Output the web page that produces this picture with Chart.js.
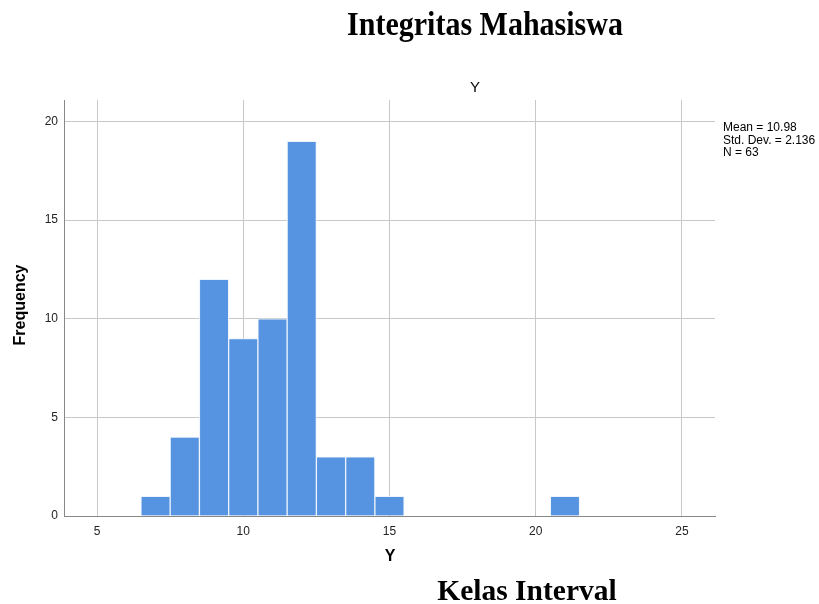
<!DOCTYPE html>
<html>
<head>
<meta charset="utf-8">
<script src="https://cdn.jsdelivr.net/npm/chart.js@4"></script>
<style>
html,body{margin:0;padding:0;background:#fff;}
#wrap{width:819px;height:604px;position:relative;}
</style>
</head>
<body>
<div id="wrap"><canvas id="c" width="819" height="604"></canvas></div>
<script>
// Histogram data (bin centres, frequencies)
const binCenters = [7, 8, 9, 10, 11, 12, 13, 14, 15, 21];
const frequencies = [1, 4, 12, 9, 10, 19, 3, 3, 1, 1];
const xTickValues = [5, 10, 15, 20, 25];
const yTickValues = [0, 5, 10, 15, 20];
const statsLines = ['Mean = 10.98', 'Std. Dev. = 2.136', 'N = 63'];
const chartTitle = 'Integritas Mahasiswa';
const chartSubtitle = 'Y';
const xAxisTitle = 'Y';
const yAxisTitle = 'Frequency';
const footerTitle = 'Kelas Interval';

const textPlugin = {
  id: 'texts',
  afterDraw(chart) {
    const ctx = chart.ctx;
    ctx.save();
    ctx.fillStyle = '#000';
    ctx.save();
    ctx.font = 'bold 30px "Liberation Serif", "Times New Roman", serif';
    ctx.textAlign = 'center';
    ctx.textBaseline = 'alphabetic';
    ctx.translate(485, 35);
    ctx.scale(1, 1.1);
    ctx.fillText(chartTitle, 0, 0);
    ctx.restore();
    ctx.font = '15px "Liberation Sans", Arial, sans-serif';
    ctx.textAlign = 'center';
    ctx.textBaseline = 'middle';
    ctx.fillText(chartSubtitle, 475, 88);
    ctx.font = '12px "Liberation Sans", Arial, sans-serif';
    ctx.textAlign = 'left';
    statsLines.forEach((s, i) => ctx.fillText(s, 723, 128 + i * 12.5));
    ctx.font = 'bold 16px "Liberation Sans", Arial, sans-serif';
    ctx.textAlign = 'center';
    ctx.fillText(xAxisTitle, 390, 557);
    ctx.save();
    ctx.translate(21, 305);
    ctx.rotate(-Math.PI / 2);
    ctx.font = 'bold 16px "Liberation Sans", Arial, sans-serif';
    ctx.fillText(yAxisTitle, 0, 0);
    ctx.restore();
    ctx.font = 'bold 29.5px "Liberation Serif", "Times New Roman", serif';
    ctx.textAlign = 'center';
    ctx.textBaseline = 'alphabetic';
    ctx.fillText(footerTitle, 527, 600);
    ctx.restore();
  }
};

new Chart(document.getElementById('c'), {
  type: 'bar',
  data: {
    datasets: [{
      data: binCenters.map((x, i) => ({x: x, y: frequencies[i]})),
      backgroundColor: '#5693e1',
      borderColor: 'rgba(235,243,252,0.95)',
      borderWidth: 1,
      barPercentage: 1,
      categoryPercentage: 1,
      borderSkipped: 'bottom'
    }]
  },
  plugins: [textPlugin],
  options: {
    responsive: false,
    animation: false,
    layout: {padding: {left: 0, top: 100, right: 104, bottom: 58}},
    plugins: {legend: {display: false}, tooltip: {enabled: false}, title: {display: false}},
    scales: {
      x: {
        type: 'linear',
        offset: false,
        min: 3.87,
        max: 26.13,
        afterBuildTicks(s) { s.ticks = xTickValues.map(v => ({value: v})); },
        afterFit(s) { s.height = 30; },
        grid: {color: '#c8c8c8', lineWidth: 1, drawTicks: false, offset: false},
        border: {display: true, color: '#888888', width: 1},
        ticks: {color: '#222', font: {size: 12, family: '"Liberation Sans", Arial, sans-serif'}, padding: 8, maxRotation: 0, autoSkip: false}
      },
      y: {
        min: 0,
        max: 21.09,
        afterBuildTicks(s) { s.ticks = yTickValues.map(v => ({value: v})); },
        afterFit(s) { s.width = 64; },
        grid: {color: '#c8c8c8', lineWidth: 1, drawTicks: false},
        border: {display: true, color: '#888888', width: 1},
        ticks: {color: '#222', font: {size: 12, family: '"Liberation Sans", Arial, sans-serif'}, padding: 6}
      }
    }
  }
});
</script>
</body>
</html>
